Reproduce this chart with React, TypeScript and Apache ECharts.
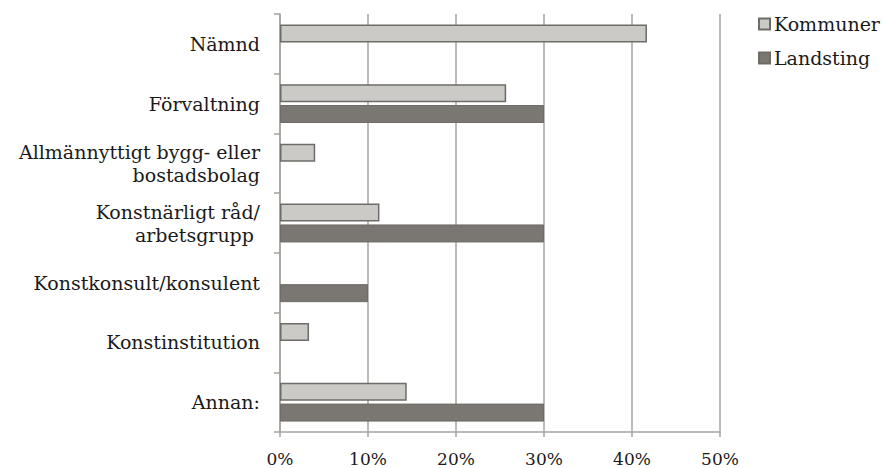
import React, { useEffect, useRef } from "react";
import * as echarts from "echarts";

const categories = [
  "Nämnd",
  "Förvaltning",
  "Allmännyttigt bygg- eller\nbostadsbolag",
  "Konstnärligt råd/\narbetsgrupp ",
  "Konstkonsult/konsulent",
  "Konstinstitution",
  "Annan:",
];
const kommuner = [41.7, 25.7, 4.0, 11.3, 0, 3.3, 14.4];
const landsting = [0, 30, 0, 30, 10, 0, 30];
const xTicks = [0, 10, 20, 30, 40, 50];

const FONT = "'DejaVu Serif', 'Liberation Serif', serif";
const hideZero = (arr: number[]) => arr.map((v) => (v === 0 ? null : v));

export default function App() {
  const ref = useRef<HTMLDivElement>(null);
  useEffect(() => {
    if (!ref.current) return;
    const chart = echarts.init(ref.current, undefined, { renderer: "svg" });
    chart.setOption({
      animation: false,
      backgroundColor: "#ffffff",
      textStyle: { fontFamily: FONT },
      grid: { left: 280, right: 164, top: 14, bottom: 36, containLabel: false },
      legend: {
        orient: "vertical",
        left: 758,
        top: 14,
        padding: 0,
        itemWidth: 11,
        itemHeight: 11,
        itemGap: 14,
        icon: "rect",
        textStyle: {
          fontFamily: FONT,
          fontSize: 19,
          lineHeight: 20,
          color: "#1a1a1a",
          padding: [0, 0, 0, -1],
        },
        data: ["Kommuner", "Landsting"],
      },
      xAxis: {
        type: "value",
        min: xTicks[0],
        max: xTicks[xTicks.length - 1],
        interval: 10,
        axisLine: { show: true, lineStyle: { color: "#a6a39e", width: 1.5 } },
        axisTick: { show: true, length: 5, lineStyle: { color: "#a6a39e", width: 1.5 } },
        splitLine: { show: true, lineStyle: { color: "#a6a39e", width: 1.5 } },
        axisLabel: {
          formatter: (v: number) => `${v}%`,
          fontFamily: FONT,
          fontSize: 17,
          color: "#1a1a1a",
          margin: 18,
        },
      },
      yAxis: {
        type: "category",
        data: categories,
        inverse: true,
        axisLine: { show: true, lineStyle: { color: "#a6a39e", width: 1.5 } },
        axisTick: { show: true, length: 6, lineStyle: { color: "#a6a39e", width: 1.5 } },
        axisLabel: {
          fontFamily: FONT,
          fontSize: 19,
          color: "#1a1a1a",
          margin: 20,
          lineHeight: 23,
          align: "right",
        },
      },
      series: [
        {
          name: "Kommuner",
          type: "bar",
          data: hideZero(kommuner),
          barWidth: 18,
          barGap: "16%",
          itemStyle: { color: "#cbcac6", borderColor: "#6e6c68", borderWidth: 1.5 },
        },
        {
          name: "Landsting",
          type: "bar",
          data: hideZero(landsting),
          barWidth: 18,
          itemStyle: { color: "#7a7671", borderColor: "#6e6c68", borderWidth: 1 },
        },
      ],
    });
    return () => chart.dispose();
  }, []);
  return <div ref={ref} style={{ width: 884, height: 468, position: "absolute", left: 0, top: 0 }} />;
}
